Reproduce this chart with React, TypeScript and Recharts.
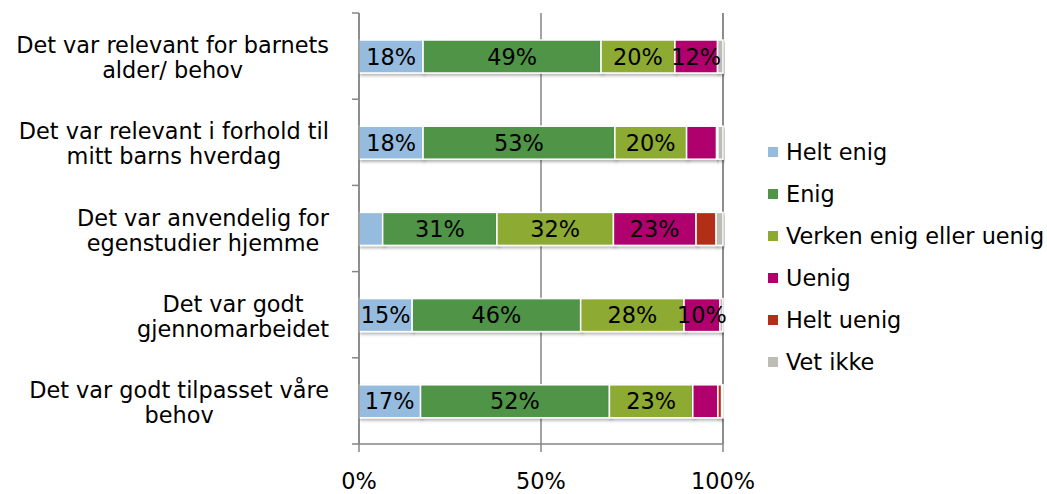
import React from "react";
import { BarChart, Bar, XAxis, YAxis, CartesianGrid, LabelList } from "recharts";

const categories = [
  "Det var relevant for barnets\nalder/ behov",
  "Det var relevant i forhold til\nmitt barns hverdag",
  "Det var anvendelig for\negenstudier hjemme",
  "Det var godt\ngjennomarbeidet",
  "Det var godt tilpasset våre\nbehov",
];
const seriesNames = ["Helt enig", "Enig", "Verken enig eller uenig", "Uenig", "Helt uenig", "Vet ikke"];
const heltEnig = [17.6, 17.6, 6.5, 14.6, 16.9];
const enig = [48.9, 52.7, 31.4, 46.3, 51.9];
const verken = [20.3, 19.7, 32.0, 28.4, 22.9];
const uenig = [11.7, 8.2, 22.7, 9.8, 6.9];
const heltUenig = [0, 0.4, 5.5, 0, 1.0];
const vetIkke = [1.5, 1.4, 1.9, 0.9, 0.4];
const xTicks = [0, 50, 100];

const colors = ["#95BBDF", "#4F9447", "#8DAA30", "#B0006E", "#B22E14", "#BDBDB5"];
const keys = ["s0", "s1", "s2", "s3", "s4", "s5"];
const allSeries = [heltEnig, enig, verken, uenig, heltUenig, vetIkke];

const data = categories.map((name, i) => {
  const row: any = { name };
  allSeries.forEach((s, j) => (row[keys[j]] = s[i]));
  return row;
});

const FONT = "'DejaVu Sans', Verdana, sans-serif";
const AXIS = "#868686";
const FS = 22.4;

let ctx: CanvasRenderingContext2D | null = null;
function measure(t: string) {
  if (!ctx) {
    const c = document.createElement("canvas");
    ctx = c.getContext("2d");
  }
  if (!ctx) return t.length * 11;
  ctx.font = FS + "px 'DejaVu Sans'";
  return ctx.measureText(t).width;
}

const YTick = (props: any) => {
  const { x, y, payload, index } = props;
  const lines = String(payload.value).split("\n");
  const block = Math.max(...lines.map(measure));
  const right = 329;
  const cx = right - block / 2;
  const half = payload.offset || 43.1;
  const axisX = x + 8;
  return (
    <g>
      <line x1={axisX - 7} x2={axisX} y1={y - half} y2={y - half} stroke={AXIS} strokeWidth={1.5} />
      {index === categories.length - 1 && (
        <line x1={axisX - 7} x2={axisX} y1={y + half} y2={y + half} stroke={AXIS} strokeWidth={1.5} />
      )}
      {lines.map((l, i) => (
        <text key={i} x={cx} y={y - 3 + i * 25} textAnchor="middle" fontFamily={FONT} fontSize={FS} fill="#000">
          {l}
        </text>
      ))}
    </g>
  );
};

const XTick = (props: any) => {
  const { x, y, payload } = props;
  return (
    <text x={x} y={y + 35} textAnchor="middle" fontFamily={FONT} fontSize={FS} fill="#000">
      {payload.value + "%"}
    </text>
  );
};

const BarShape = (props: any) => {
  const { x, y, width, height, fill } = props;
  if (!width || width <= 0) return null;
  return (
    <rect x={x} y={y} width={width} height={height} fill={fill} stroke="#fff" strokeWidth={1.5} filter="url(#barShadow)" />
  );
};

const renderLabel = (props: any) => {
  const { x, y, width, height, value } = props;
  if (value == null || value < 9.5) return null;
  return (
    <text x={x + width / 2} y={y + height / 2 + 8} textAnchor="middle" fontFamily={FONT} fontSize={FS} fill="#000">
      {Math.round(value) + "%"}
    </text>
  );
};

export default function App() {
  return (
    <div style={{ position: "absolute", left: 0, top: 0, width: 1047, height: 494, background: "#fff" }}>
      <svg width={0} height={0} style={{ position: "absolute" }}>
        <defs>
          <filter id="barShadow" x="-10%" y="-20%" width="130%" height="160%">
            <feDropShadow dx={1.5} dy={2} stdDeviation={1.5} floodColor="#000" floodOpacity={0.3} />
          </filter>
        </defs>
      </svg>
      <BarChart
        width={1047}
        height={494}
        data={data}
        layout="vertical"
        margin={{ top: 13, right: 324, bottom: 0, left: 0 }}
        barSize={33}
      >
        <CartesianGrid horizontal={false} vertical={true} stroke={AXIS} strokeWidth={1.5} />
        <XAxis
          type="number"
          domain={[0, 100]}
          ticks={xTicks}
          height={50}
          axisLine={{ stroke: AXIS, strokeWidth: 1.5 }}
          tickLine={{ stroke: AXIS, strokeWidth: 1.5 }}
          tickSize={8}
          tick={<XTick />}
          interval={0}
        />
        <YAxis
          type="category"
          dataKey="name"
          width={359}
          axisLine={{ stroke: AXIS, strokeWidth: 1.5 }}
          tickLine={false}
          tick={<YTick />}
          interval={0}
        />
        {keys.map((k, i) => (
          <Bar key={k} dataKey={k} name={seriesNames[i]} stackId="a" fill={colors[i]} shape={<BarShape />} isAnimationActive={false}>
            <LabelList dataKey={k} content={renderLabel} />
          </Bar>
        ))}
      </BarChart>
      <div style={{ position: "absolute", left: 768, top: 131, fontFamily: FONT, fontSize: FS, color: "#000" }}>
        {seriesNames.map((n, i) => (
          <div key={n} style={{ height: 42, display: "flex", alignItems: "center", whiteSpace: "nowrap" }}>
            <span style={{ display: "inline-block", width: 10, height: 10, background: colors[i], marginRight: 8 }} />
            <span>{n}</span>
          </div>
        ))}
      </div>
    </div>
  );
}
